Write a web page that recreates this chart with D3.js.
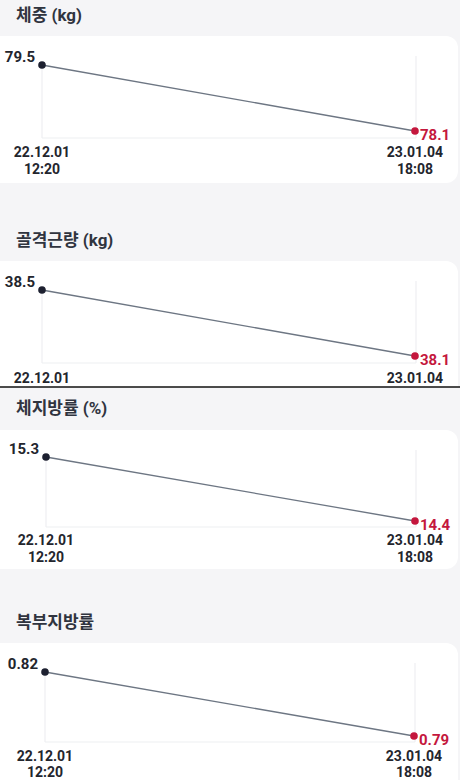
<!DOCTYPE html>
<html>
<head>
<meta charset="utf-8">
<script src="https://cdn.jsdelivr.net/npm/d3@7"></script>
<style>
  html, body { margin: 0; padding: 0; background: #f5f5f7; }
  svg { display: block; font-family: Roboto, "Noto Sans CJK KR", sans-serif; }
</style>
</head>
<body>
<svg id="chart"></svg>
<script>
const w = 460;
const h = 780;

// data
const panelTitles = ['체중 (kg)', '골격근량 (kg)', '체지방률 (%)', '복부지방률'];
const dateLabels = ['22.12.01', '23.01.04'];
const timeLabels = ['12:20', '18:08'];
const weightValues = [79.5, 78.1];
const muscleValues = [38.5, 38.1];
const fatPctValues = [15.3, 14.4];
const abdominalValues = [0.82, 0.79];
const valueFormats = ['.1f', '.1f', '.1f', '.2f'];
const seriesList = [weightValues, muscleValues, fatPctValues, abdominalValues];

// where each screenshot panel sits
const layout = [
	{ top: 36, bottom: 183, title: 21, yTop: 65, yBot: 131, base: 138, lab1: 157, lab2: 173.5, x0: 42, x1: 415, time: true },
	{ top: 261, bottom: 420, title: 246, yTop: 290, yBot: 356, base: 363, lab1: 383, lab2: 398, x0: 42, x1: 415, time: false, clip: 387 },
	{ top: 430, bottom: 569, title: 414, yTop: 457, yBot: 521, base: 527, lab1: 545, lab2: 561.5, x0: 46, x1: 415, time: true },
	{ top: 643, bottom: 800, title: 628, yTop: 672, yBot: 736, base: 742, lab1: 761, lab2: 777, x0: 45, x1: 414, time: true },
];

const dark = '#1d2030';
const red = '#c4173d';
const lineColor = '#6d7683';
const gridColor = '#eeeff2';
const textColor = '#23252d';

let canvas = d3.select('#chart').attr('width', w).attr('height', h);

canvas.append('rect').attr('width', w).attr('height', h).attr('fill', '#f5f5f7');

let defs = canvas.append('defs');
defs.append('clipPath').attr('id', 'clip2')
	.append('rect').attr('x', 0).attr('y', 0).attr('width', w).attr('height', 387);

const drawPanel = (i) => {
	let L = layout[i];
	let values = seriesList[i];
	let fmt = d3.format(valueFormats[i]);

	let g = canvas.append('g');
	if (L.clip) g.attr('clip-path', 'url(#clip2)');

	g.append('text')
		.attr('x', 16)
		.attr('y', L.title)
		.attr('font-size', 17)
		.attr('font-weight', 700)
		.attr('fill', '#30343f')
		.text(panelTitles[i]);

	g.append('rect')
		.attr('x', -12)
		.attr('y', L.top)
		.attr('width', 470)
		.attr('height', L.bottom - L.top)
		.attr('rx', 12)
		.attr('fill', '#ffffff');

	let xScale = d3.scalePoint().domain(dateLabels).range([L.x0, L.x1]);
	let yScale = d3.scaleLinear().domain(d3.extent(values)).range([L.yBot, L.yTop]);

	// grid
	g.append('line')
		.attr('x1', L.x0).attr('x2', L.x1 + 1)
		.attr('y1', L.base).attr('y2', L.base)
		.attr('stroke', gridColor).attr('stroke-width', 1.2);
	g.append('line')
		.attr('x1', L.x0).attr('x2', L.x0)
		.attr('y1', yScale(values[0])).attr('y2', L.base)
		.attr('stroke', gridColor).attr('stroke-width', 1.2);
	g.append('line')
		.attr('x1', L.x1 + 1).attr('x2', L.x1 + 1)
		.attr('y1', L.top + 20).attr('y2', L.base)
		.attr('stroke', gridColor).attr('stroke-width', 1.2);

	let line = d3.line()
		.x((d, j) => xScale(dateLabels[j]))
		.y((d) => yScale(d));

	g.append('path')
		.datum(values)
		.attr('d', line)
		.attr('fill', 'none')
		.attr('stroke', lineColor)
		.attr('stroke-width', 1.3);

	g.selectAll('circle.pt')
		.data(values)
		.enter()
		.append('circle')
		.attr('class', 'pt')
		.attr('cx', (d, j) => xScale(dateLabels[j]))
		.attr('cy', (d) => yScale(d))
		.attr('r', 3.8)
		.attr('fill', (d, j) => (j === values.length - 1 ? red : dark));

	// value labels
	g.append('text')
		.attr('x', xScale(dateLabels[0]) - 7)
		.attr('y', yScale(values[0]) - 3)
		.attr('text-anchor', 'end')
		.attr('font-size', 15)
		.attr('font-weight', 700)
		.attr('fill', textColor)
		.text(fmt(values[0]));
	g.append('text')
		.attr('x', xScale(dateLabels[1]) + 5)
		.attr('y', yScale(values[1]) + 9)
		.attr('font-size', 15)
		.attr('font-weight', 700)
		.attr('fill', red)
		.text(fmt(values[1]));

	// x labels
	dateLabels.forEach((d, j) => {
		g.append('text')
			.attr('x', xScale(d))
			.attr('y', L.lab1)
			.attr('text-anchor', 'middle')
			.attr('font-size', 14)
			.attr('font-weight', 700)
			.attr('fill', textColor)
			.text(d);
		if (L.time) {
			g.append('text')
				.attr('x', xScale(d))
				.attr('y', L.lab2)
				.attr('text-anchor', 'middle')
				.attr('font-size', 14)
				.attr('font-weight', 700)
				.attr('fill', textColor)
				.text(timeLabels[j]);
		}
	});
};

layout.forEach((L, i) => drawPanel(i));

// seam between the two screenshots
canvas.append('line')
	.attr('x1', 0).attr('x2', w)
	.attr('y1', 387).attr('y2', 387)
	.attr('stroke', '#111').attr('stroke-width', 1.5);
</script>
</body>
</html>
